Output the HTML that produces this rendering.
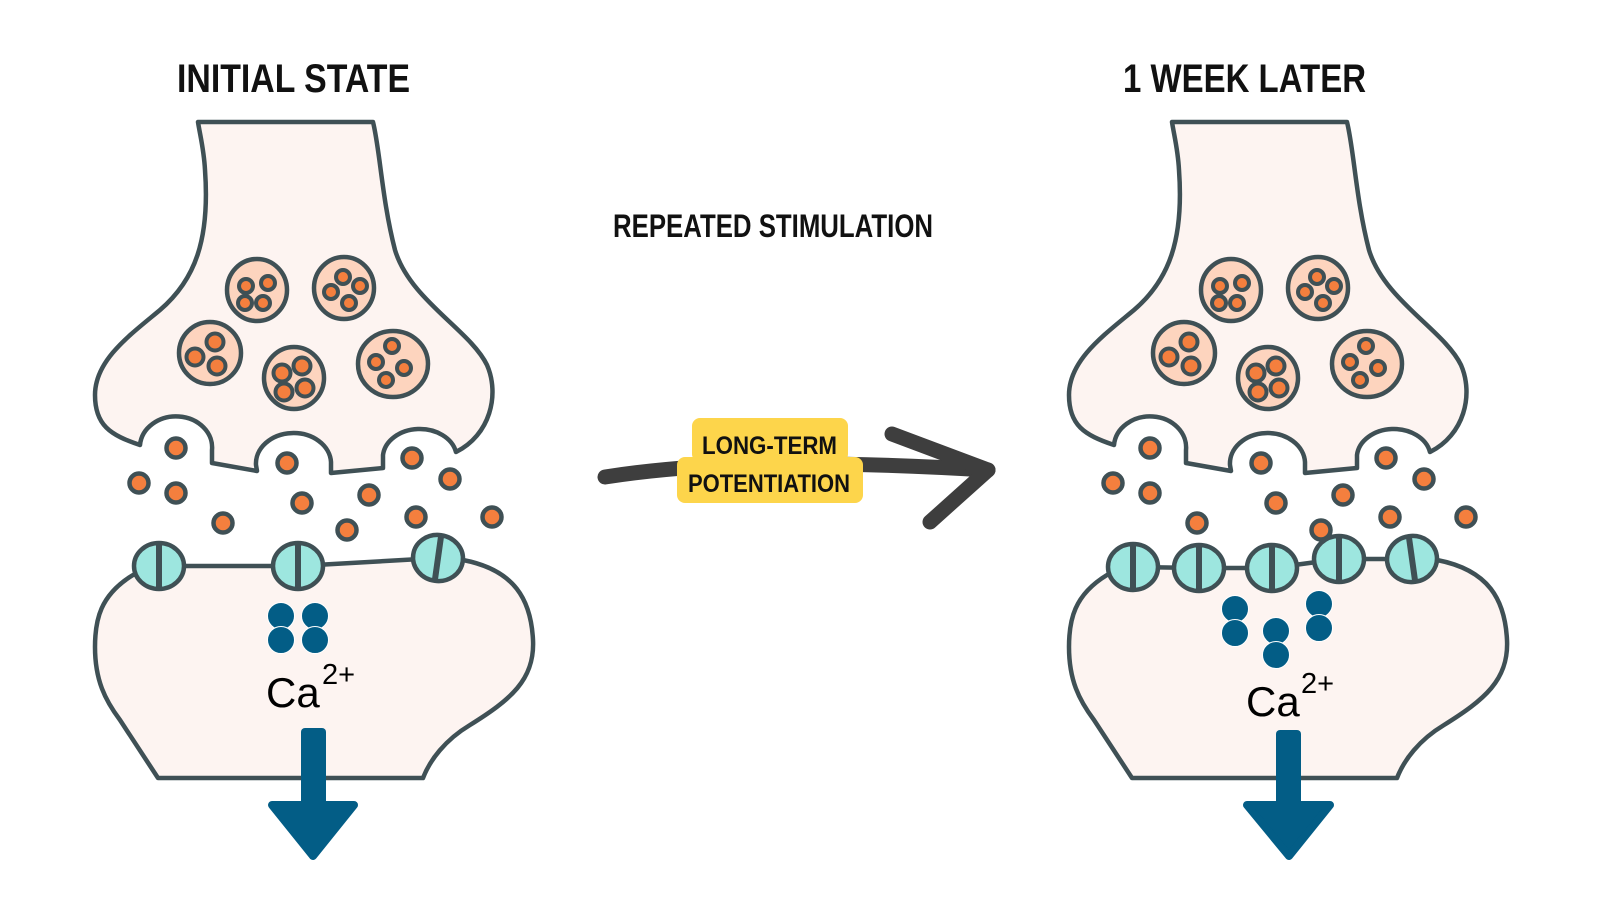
<!DOCTYPE html>
<html><head><meta charset="utf-8"><style>
html,body{margin:0;padding:0;background:#fff;}
svg{display:block;}
text{font-family:"Liberation Sans",sans-serif;}
</style></head><body>
<svg width="1600" height="900" viewBox="0 0 1600 900" xmlns="http://www.w3.org/2000/svg">
<defs>
<g id="pre">
<path d="M198,122 L373,122 C380,150 382,200 395,250 C410,300 470,330 487,365 C500,395 490,435 456,452 A37,29 0 0 0 383,455 L383,468 L331,473 L331,462 A37,30 0 0 0 256,465 L257,471 L212,463 L212,450 A36,31 0 0 0 140,445 C110,435 95,425 95,395 C95,360 130,335 160,310 C195,280 210,240 205,170 C204,150 200,135 198,122 Z" fill="#fdf4f1" stroke="#3f5055" stroke-width="4.5" stroke-linejoin="round"/>
<g stroke="#3f5055" stroke-width="4.5" fill="#fdd4be">
<ellipse cx="257" cy="290" rx="30" ry="31"/>
<ellipse cx="344" cy="288" rx="30" ry="31"/>
<ellipse cx="210" cy="353" rx="31" ry="31"/>
<ellipse cx="294" cy="378" rx="30" ry="31"/>
<ellipse cx="393" cy="364" rx="35" ry="33"/>
</g>
<g stroke="#3f5055" stroke-width="4" fill="#f47f3e">
<circle cx="246" cy="286" r="7"/><circle cx="268" cy="283" r="7"/><circle cx="245" cy="303" r="7"/><circle cx="263" cy="303" r="7"/>
<circle cx="343" cy="277" r="7"/><circle cx="360" cy="286" r="7"/><circle cx="331" cy="292" r="7"/><circle cx="349" cy="303" r="7"/>
<circle cx="215" cy="342" r="8.5"/><circle cx="195" cy="357" r="8.5"/><circle cx="217" cy="366" r="8.5"/>
<circle cx="302" cy="366" r="8.5"/><circle cx="282" cy="373" r="8.5"/><circle cx="284" cy="392" r="8.5"/><circle cx="305" cy="388" r="8.5"/>
<circle cx="392" cy="346" r="7"/><circle cx="376" cy="362" r="7"/><circle cx="404" cy="368" r="7"/><circle cx="386" cy="380" r="7"/>
</g>
<g stroke="#3f5055" stroke-width="4.5" fill="#f47f3e">
<circle cx="176" cy="448" r="9.5"/><circle cx="139" cy="483" r="9.5"/><circle cx="176" cy="493" r="9.5"/><circle cx="223" cy="523" r="9.5"/>
<circle cx="287" cy="463" r="9.5"/><circle cx="302" cy="503" r="9.5"/><circle cx="347" cy="530" r="9.5"/><circle cx="369" cy="495" r="9.5"/>
<circle cx="412" cy="458" r="9.5"/><circle cx="450" cy="479" r="9.5"/><circle cx="416" cy="517" r="9.5"/><circle cx="492" cy="517" r="9.5"/>
</g>
</g>
<g id="rec">
<ellipse cx="0" cy="0" rx="25" ry="23" fill="#9de6df" stroke="#3f5055" stroke-width="4.5"/>
<line x1="0" y1="-23" x2="0" y2="23" stroke="#3f5055" stroke-width="6"/>
</g>
<g id="ca">
<circle cx="0" cy="0" r="13.5" fill="#035d86" stroke="#fff" stroke-width="1"/>
<circle cx="0" cy="24" r="13.5" fill="#035d86" stroke="#fff" stroke-width="1"/>
</g>
</defs>

<text x="177" y="92" font-size="40" font-weight="bold" textLength="233" lengthAdjust="spacingAndGlyphs" fill="#111">INITIAL STATE</text>
<text x="1123" y="92" font-size="40" font-weight="bold" textLength="243" lengthAdjust="spacingAndGlyphs" fill="#111">1 WEEK LATER</text>
<text x="613" y="237" font-size="32" font-weight="bold" textLength="320" lengthAdjust="spacingAndGlyphs" fill="#111">REPEATED STIMULATION</text>

<path d="M133,575 C100,595 95,620 95,647 C95,680 105,700 120,720 L158,778 L423,778 C430,760 445,740 470,725 C510,700 535,680 533,640 C531,600 515,570 463,560 L438,558 L298,566 L159,566 Z" fill="#fdf4f1" stroke="#3f5055" stroke-width="4.5" stroke-linejoin="round"/>
<use href="#pre"/>
<use href="#rec" transform="translate(159,566)"/>
<use href="#rec" transform="translate(298,566)"/>
<use href="#rec" transform="translate(438,558) rotate(8)"/>
<use href="#ca" transform="translate(281,616)"/>
<use href="#ca" transform="translate(315,616)"/>
<text x="266" y="707" font-size="42" fill="#000">Ca</text>
<text x="322" y="684" font-size="29" fill="#000">2+</text>
<rect x="301" y="728" width="25" height="85" rx="4" fill="#035d86"/>
<path d="M272,805 L354,805 L313,856 Z" fill="#035d86" stroke="#035d86" stroke-width="8" stroke-linejoin="round"/>

<g transform="translate(974,0)">
<path d="M133,575 C100,595 95,620 95,647 C95,680 105,700 120,720 L158,778 L423,778 C430,760 445,740 470,725 C510,700 535,680 533,640 C531,600 515,570 463,560 L438,559 L365,559 L298,568 L225,568 L159,567 Z" fill="#fdf4f1" stroke="#3f5055" stroke-width="4.5" stroke-linejoin="round"/>
<use href="#pre"/>
</g>
<use href="#rec" transform="translate(1133,567)"/>
<use href="#rec" transform="translate(1199,568)"/>
<use href="#rec" transform="translate(1272,568)"/>
<use href="#rec" transform="translate(1339,559)"/>
<use href="#rec" transform="translate(1412,559) rotate(-8)"/>
<use href="#ca" transform="translate(1235,609)"/>
<use href="#ca" transform="translate(1276,631)"/>
<use href="#ca" transform="translate(1319,604)"/>
<text x="1246" y="716" font-size="42" fill="#000">Ca</text>
<text x="1301" y="693" font-size="29" fill="#000">2+</text>
<rect x="1276" y="730" width="25" height="82" rx="4" fill="#035d86"/>
<path d="M1247,805 L1330,805 L1289,856 Z" fill="#035d86" stroke="#035d86" stroke-width="8" stroke-linejoin="round"/>

<path d="M605,477 C700,462 820,460 988,470" fill="none" stroke="#3e3e3e" stroke-width="15" stroke-linecap="round"/>
<path d="M892,434 L988,470 L930,522" fill="none" stroke="#3e3e3e" stroke-width="15" stroke-linecap="round" stroke-linejoin="round"/>
<rect x="692" y="418" width="156" height="44" rx="8" fill="#fdd54b"/>
<rect x="677" y="457" width="186" height="46" rx="8" fill="#fdd54b"/>
<text x="702" y="454" font-size="25" font-weight="bold" textLength="135" lengthAdjust="spacingAndGlyphs" fill="#111">LONG-TERM</text>
<text x="688" y="492" font-size="25" font-weight="bold" textLength="162" lengthAdjust="spacingAndGlyphs" fill="#111">POTENTIATION</text>
</svg>
</body></html>
